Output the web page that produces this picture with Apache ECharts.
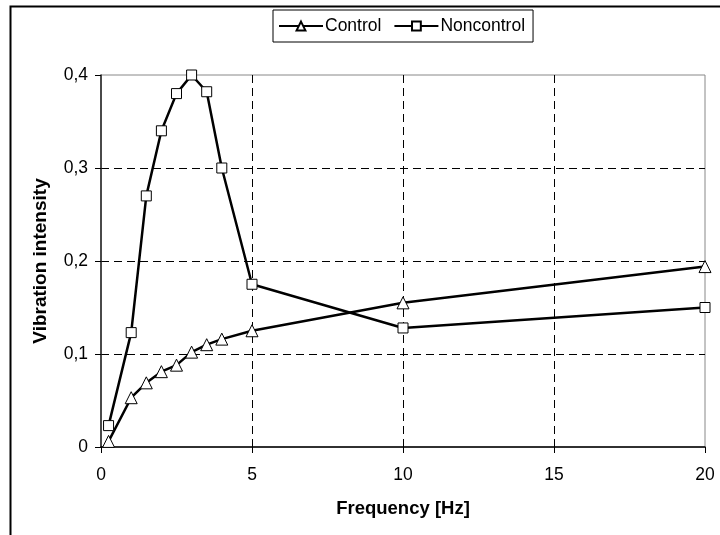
<!DOCTYPE html>
<html>
<head>
<meta charset="utf-8">
<script src="https://cdn.jsdelivr.net/npm/echarts@6/dist/echarts.min.js"></script>
<style>html,body{margin:0;padding:0;background:#fff}#c{width:720px;height:535px}</style>
</head>
<body>
<div id="c"></div>
<script>
const frequency = [0.25, 1, 1.5, 2, 2.5, 3, 3.5, 4, 5, 10, 20];
const control = [0.006, 0.053, 0.069, 0.081, 0.088, 0.102, 0.110, 0.116, 0.125, 0.155, 0.194];
const noncontrol = [0.023, 0.123, 0.270, 0.340, 0.380, 0.400, 0.382, 0.300, 0.175, 0.128, 0.150];
const seriesNames = ['Control', 'Noncontrol'];
const xTitle = 'Frequency [Hz]';
const yTitle = 'Vibration intensity';

const FONT = 'Liberation Sans, Arial, sans-serif';
const chart = echarts.init(document.getElementById('c'), null, {renderer: 'canvas'});
function pairs(xs, ys) { return xs.map((x, i) => [x, ys[i]]); }
const lineStyle = {color: '#000', width: 2.5};
const itemStyle = {color: '#fff', borderColor: '#000', borderWidth: 1};
chart.setOption({
  animation: false,
  backgroundColor: '#fff',
  graphic: [{
    type: 'rect', left: 8, top: 4, silent: true,
    shape: {x: 0, y: 0, width: 760, height: 580},
    style: {fill: 'none', stroke: '#000', lineWidth: 2}
  }],
  legend: {
    left: 273, top: 10,
    padding: [7, 8, 7, 5],
    itemGap: 12,
    itemWidth: 44, itemHeight: 11,
    borderColor: '#000', borderWidth: 1,
    textStyle: {fontFamily: FONT, fontSize: 17.5, color: '#000', padding: [1, 0, 0, -3]},
    data: seriesNames
  },
  grid: {left: 101, right: 15, top: 75, bottom: 88, show: true, borderColor: '#888', borderWidth: 1, containLabel: false},
  xAxis: {
    type: 'value', min: 0, max: 20, interval: 5,
    name: xTitle, nameLocation: 'middle', nameGap: 52,
    nameTextStyle: {fontFamily: FONT, fontSize: 18.5, fontWeight: 'bold', color: '#000'},
    axisLine: {lineStyle: {color: '#000', width: 1.5}},
    axisTick: {inside: false, length: 6, lineStyle: {color: '#000'}},
    axisLabel: {fontFamily: FONT, fontSize: 17.5, color: '#000', margin: 19},
    splitLine: {show: true, showMinLine: false, showMaxLine: false, lineStyle: {color: '#000', type: [8, 5], width: 1}}
  },
  yAxis: {
    type: 'value', min: 0, max: 0.4, interval: 0.1,
    name: yTitle, nameLocation: 'middle', nameGap: 51,
    nameTextStyle: {fontFamily: FONT, fontSize: 19, fontWeight: 'bold', color: '#000'},
    axisLine: {show: true, lineStyle: {color: '#222', width: 1.5}},
    axisTick: {show: true, inside: false, length: 6, lineStyle: {color: '#000'}},
    axisLabel: {fontFamily: FONT, fontSize: 17.5, color: '#000', margin: 13,
      formatter: v => (v === 0 ? '0' : v.toFixed(1).replace('.', ','))},
    splitLine: {show: true, showMinLine: false, showMaxLine: false, lineStyle: {color: '#000', type: [8, 5], width: 1}}
  },
  series: [
    {name: seriesNames[0], type: 'line', data: pairs(frequency, control),
     symbol: 'triangle', symbolSize: 12, showAllSymbol: true,
     lineStyle: lineStyle, itemStyle: itemStyle, z: 3},
    {name: seriesNames[1], type: 'line', data: pairs(frequency, noncontrol),
     symbol: 'rect', symbolSize: 10, showAllSymbol: true,
     lineStyle: lineStyle, itemStyle: itemStyle, z: 4}
  ]
});
</script>
</body>
</html>
